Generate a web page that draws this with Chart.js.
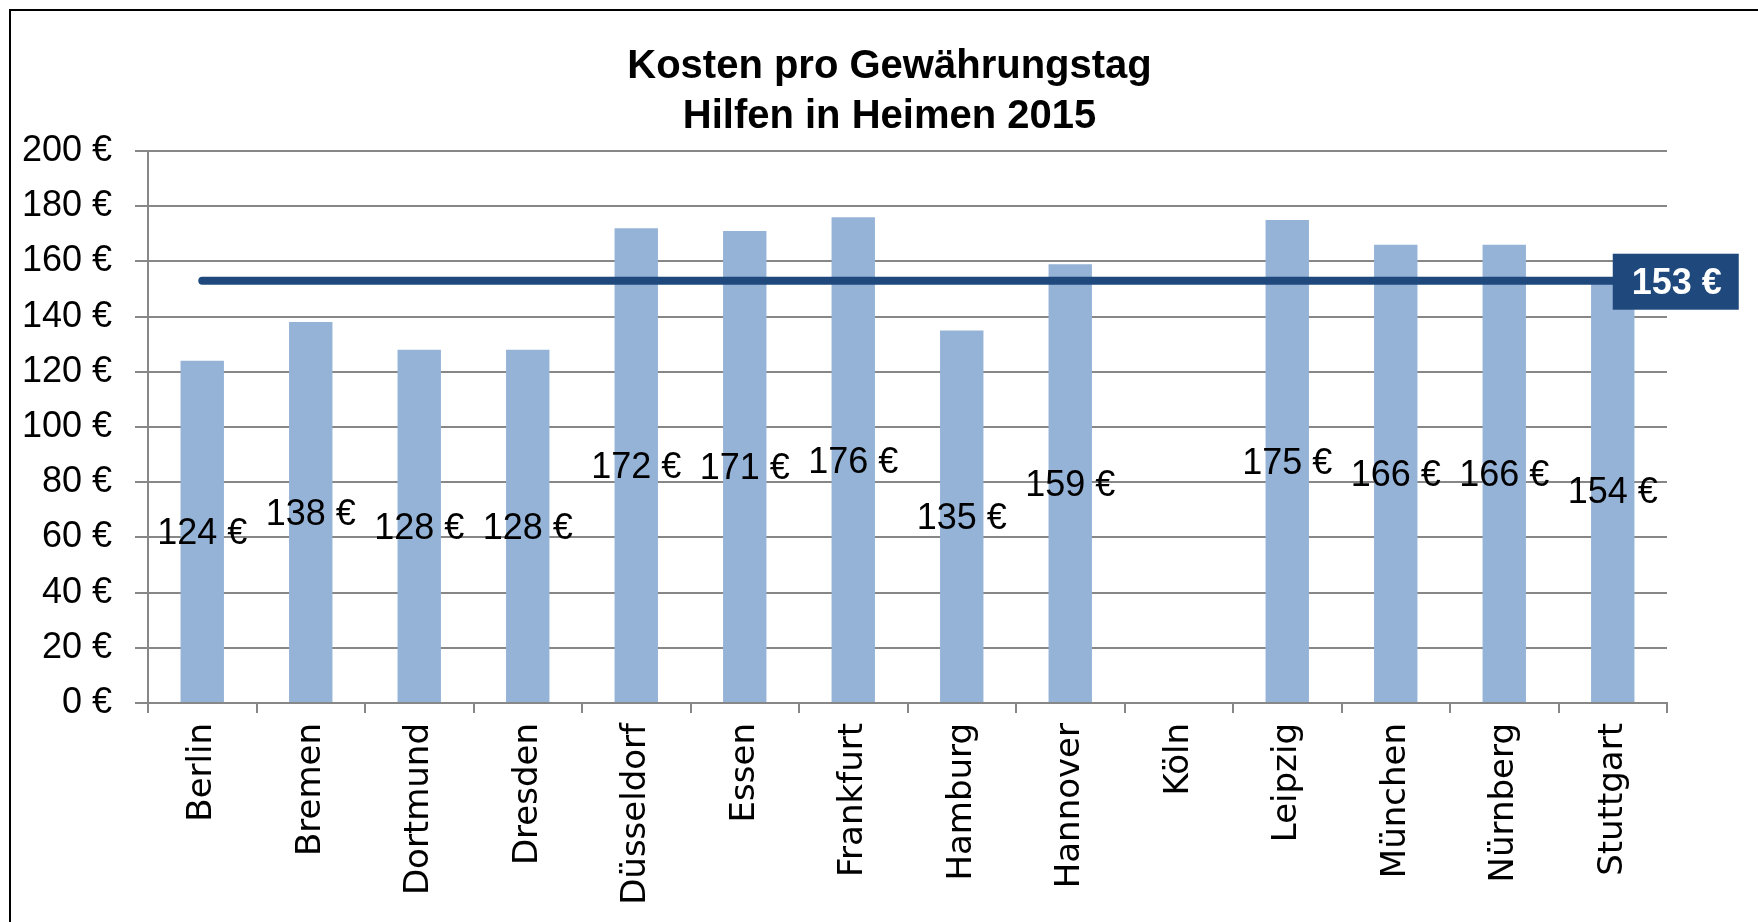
<!DOCTYPE html>
<html lang="de">
<head>
<meta charset="utf-8">
<title>Kosten pro Gewährungstag</title>
<script src="https://cdn.jsdelivr.net/npm/chart.js@4"></script>
<style>
  html, body { margin: 0; padding: 0; background: #fff; }
  #wrap { width: 1758px; height: 922px; }
</style>
</head>
<body>
<div id="wrap"><canvas id="chart" width="1758" height="922"></canvas></div>
<script>
// Daten
const staedte = ['Berlin', 'Bremen', 'Dortmund', 'Dresden', 'Düsseldorf', 'Essen', 'Frankfurt',
  'Hamburg', 'Hannover', 'Köln', 'Leipzig', 'München', 'Nürnberg', 'Stuttgart'];
const kosten = [124, 138, 128, 128, 172, 171, 176, 135, 159, null, 175, 166, 166, 154];
const durchschnitt = [153, 153, 153, 153, 153, 153, 153, 153, 153, 153, 153, 153, 153, 153];
const durchschnittLabel = '153 €';
const titel = ['Kosten pro Gewährungstag', 'Hilfen in Heimen 2015'];

const GRID = '#878787';
const tickFont = { family: '"Liberation Sans", sans-serif', size: 36 };

// Rahmen + Hintergrund, Titel etwas nach rechts wie im Original
const rahmen = {
  id: 'rahmen',
  afterLayout(chart) {
    chart.titleBlock.left = 112;
  },
  beforeDraw(chart) {
    const ctx = chart.ctx;
    ctx.save();
    ctx.fillStyle = '#fff';
    ctx.fillRect(0, 0, chart.width, chart.height);
    ctx.strokeStyle = '#000';
    ctx.lineWidth = 2;
    ctx.beginPath();
    ctx.moveTo(10, chart.height + 5);
    ctx.lineTo(10, 10);
    ctx.lineTo(chart.width + 5, 10);
    ctx.stroke();
    ctx.restore();
  }
};

// Werte in Balkenmitte + Box für Durchschnitt
const beschriftung = {
  id: 'beschriftung',
  afterDatasetsDraw(chart) {
    const ctx = chart.ctx;
    ctx.save();
    ctx.font = '36px "Liberation Sans", sans-serif';
    ctx.fillStyle = '#000';
    ctx.textAlign = 'center';
    ctx.textBaseline = 'middle';
    chart.getDatasetMeta(1).data.forEach((bar, i) => {
      if (kosten[i] == null) return;
      ctx.fillText(kosten[i] + ' €', bar.x, (bar.y + bar.base) / 2 + 3);
    });

    const pts = chart.getDatasetMeta(0).data;
    const last = pts[pts.length - 1];
    ctx.fillStyle = '#1F497D';
    ctx.fillRect(last.x, last.y - 27, 126, 56);
    ctx.fillStyle = '#fff';
    ctx.font = 'bold 36px "Liberation Sans", sans-serif';
    ctx.fillText(durchschnittLabel, last.x + 64, last.y + 3);
    ctx.restore();
  }
};

new Chart(document.getElementById('chart'), {
  data: {
    labels: staedte,
    datasets: [
      {
        type: 'line',
        label: 'Durchschnitt',
        data: durchschnitt,
        borderColor: '#1F497D',
        borderWidth: 8,
        borderCapStyle: 'round',
        pointRadius: 0,
        order: 1
      },
      {
        type: 'bar',
        label: 'Kosten',
        data: kosten,
        backgroundColor: '#95B3D7',
        barPercentage: 0.4,
        categoryPercentage: 1.0,
        order: 2
      }
    ]
  },
  options: {
    responsive: false,
    animation: false,
    layout: { padding: { left: 0, right: 91, top: 0, bottom: 0 } },
    plugins: {
      legend: { display: false },
      tooltip: { enabled: false },
      title: {
        display: true,
        text: titel,
        color: '#000',
        font: { family: '"Liberation Sans", sans-serif', size: 40, weight: 'bold', lineHeight: 1.25 },
        padding: { top: 42, bottom: 9 }
      }
    },
    scales: {
      x: {
        offset: true,
        grid: { offset: true, drawOnChartArea: false, color: GRID, lineWidth: 2, tickLength: 10 },
        border: { color: GRID, width: 2 },
        ticks: {
          color: '#000',
          minRotation: 90,
          maxRotation: 90,
          padding: 10,
          font: { family: '"DejaVu Sans", sans-serif', size: 34 }
        },
        afterFit(scale) { scale.height = 219; }
      },
      y: {
        min: 0,
        max: 200,
        ticks: {
          stepSize: 20,
          color: '#000',
          padding: 23,
          font: tickFont,
          callback: v => v + ' €'
        },
        grid: { color: GRID, lineWidth: 2, tickLength: 13 },
        border: { color: GRID, width: 2 },
        afterFit(scale) { scale.width = 148; }
      }
    }
  },
  plugins: [rahmen, beschriftung]
});
</script>
</body>
</html>
